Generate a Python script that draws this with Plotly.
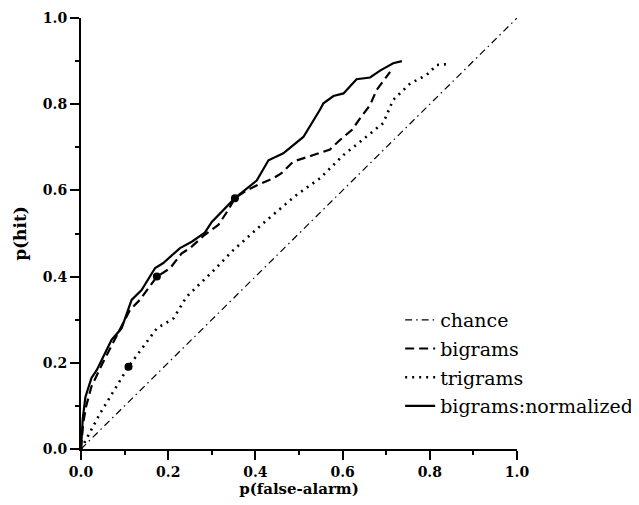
import plotly.graph_objects as go

# chance line
chance_x = [0.0, 1.0]
chance_y = [0.0, 1.0]

# bigrams (dashed)
bigram_x = [0.0, 0.005, 0.012, 0.024, 0.05, 0.089, 0.112, 0.135, 0.174, 0.204, 0.231, 0.25, 0.284,
            0.315, 0.338, 0.353, 0.38, 0.41, 0.441, 0.46, 0.487, 0.533, 0.571, 0.594, 0.621,
            0.64, 0.663, 0.678, 0.705, 0.709]
bigram_y = [0.0, 0.06, 0.1, 0.145, 0.2, 0.276, 0.322, 0.346, 0.40, 0.419, 0.454, 0.466, 0.497,
            0.52, 0.555, 0.582, 0.6, 0.615, 0.628, 0.64, 0.667, 0.682, 0.695, 0.717, 0.74,
            0.767, 0.798, 0.833, 0.868, 0.875]

# trigrams (dotted)
trigram_x = [0.0, 0.009, 0.044, 0.109, 0.174, 0.212, 0.242, 0.30, 0.35, 0.426, 0.495, 0.548,
             0.602, 0.655, 0.693, 0.716, 0.755, 0.793, 0.816, 0.839]
trigram_y = [0.0, 0.017, 0.083, 0.191, 0.28, 0.303, 0.353, 0.41, 0.462, 0.531, 0.59, 0.628,
             0.682, 0.725, 0.756, 0.81, 0.848, 0.868, 0.891, 0.893]

# bigrams:normalized (solid)
norm_x = [0.0, 0.004, 0.01, 0.024, 0.036, 0.07, 0.093, 0.116, 0.139, 0.17, 0.188, 0.227, 0.254,
          0.284, 0.30, 0.326, 0.353, 0.403, 0.43, 0.464, 0.51, 0.548, 0.556, 0.579, 0.602,
          0.632, 0.663, 0.686, 0.716, 0.736]
norm_y = [0.0, 0.07, 0.12, 0.165, 0.183, 0.253, 0.28, 0.346, 0.369, 0.42, 0.431, 0.466, 0.481,
          0.502, 0.527, 0.555, 0.582, 0.623, 0.67, 0.686, 0.724, 0.787, 0.802, 0.819, 0.825,
          0.858, 0.862, 0.878, 0.895, 0.90]

# highlighted operating points
mark_x = [0.109, 0.174, 0.353]
mark_y = [0.191, 0.40, 0.582]

x_ticks = [0.0, 0.2, 0.4, 0.6, 0.8, 1.0]
y_ticks = [0.0, 0.2, 0.4, 0.6, 0.8, 1.0]
tick_labels = ["0.0", "0.2", "0.4", "0.6", "0.8", "1.0"]

serif = "DejaVu Serif"

fig = go.Figure()
fig.add_trace(go.Scatter(x=chance_x, y=chance_y, mode="lines", name="chance",
                         legendgroup="a",
                         line=dict(color="black", width=1.2, dash="7px,4px,1.5px,4px")))
fig.add_trace(go.Scatter(x=bigram_x, y=bigram_y, mode="lines", name="bigrams",
                         legendgroup="b",
                         line=dict(color="black", width=2.2, dash="9px,5px")))
fig.add_trace(go.Scatter(x=trigram_x, y=trigram_y, mode="lines", name="trigrams",
                         legendgroup="c",
                         line=dict(color="black", width=2.6, dash="2px,5px")))
fig.add_trace(go.Scatter(x=norm_x, y=norm_y, mode="lines", name="bigrams:normalized",
                         legendgroup="d",
                         line=dict(color="black", width=2.2)))
fig.add_trace(go.Scatter(x=mark_x, y=mark_y, mode="markers", showlegend=False,
                         marker=dict(color="black", size=8)))

tickfont = dict(family=serif, size=14, color="black", weight="bold")
minor = dict(ticks="outside", ticklen=4, tickwidth=1.5, tickcolor="black", dtick=0.1)

fig.update_layout(
    width=680, height=505,
    margin=dict(l=73, r=171, t=10, b=64),
    font=dict(family=serif),
    plot_bgcolor="white", paper_bgcolor="white",
    xaxis=dict(range=[0, 1], showgrid=False, zeroline=False, showline=True, automargin=False,
               linecolor="black", linewidth=2, ticks="outside", ticklen=9, tickwidth=2,
               tickcolor="black", tickfont=tickfont, tickvals=x_ticks, ticktext=tick_labels,
               minor=minor,
               title=dict(text="p(false-alarm)", standoff=5,
                          font=dict(family=serif, size=15, color="black", weight="bold"))),
    yaxis=dict(range=[0, 1], showgrid=False, zeroline=False, showline=True, automargin=False,
               linecolor="black", linewidth=2, ticks="outside", ticklen=9, tickwidth=2,
               tickcolor="black", tickfont=tickfont, tickvals=y_ticks, ticktext=tick_labels,
               minor=minor,
               title=dict(text="p(hit)", standoff=12,
                          font=dict(family=serif, size=17, color="black", weight="bold"))),
    legend=dict(x=0.732, y=0.3435, xanchor="left", yanchor="top",
                font=dict(family=serif, size=19, color="black"),
                bgcolor="rgba(0,0,0,0)", traceorder="grouped", tracegroupgap=1,
                itemwidth=30),
    showlegend=True,
)

fig.write_html("out.html")
